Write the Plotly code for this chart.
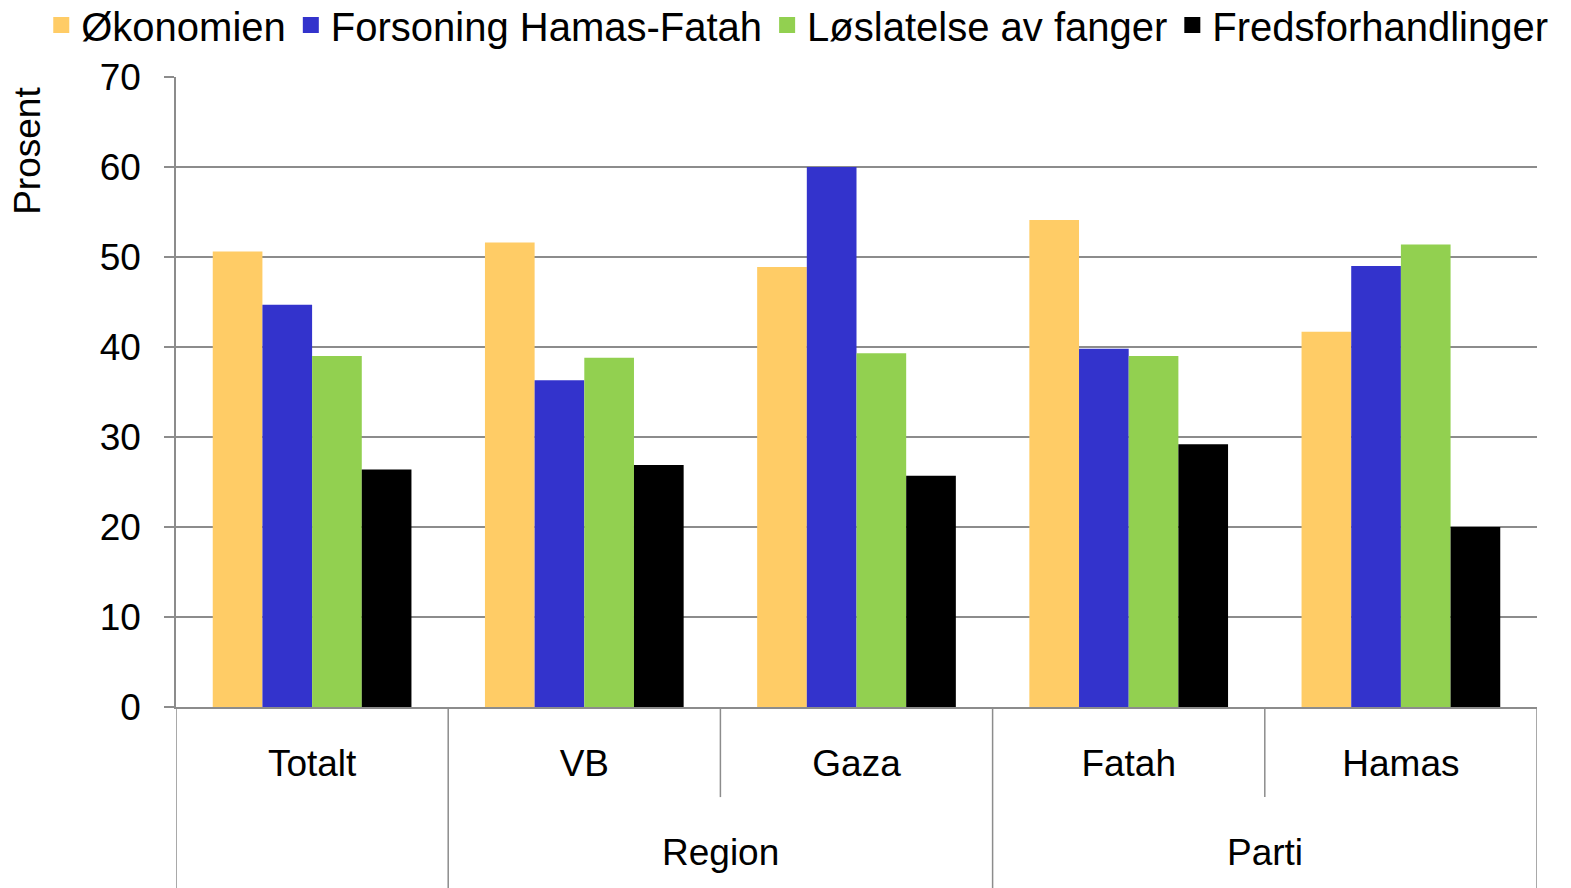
import plotly.graph_objects as go

categories = ["Totalt", "VB", "Gaza", "Fatah", "Hamas"]
groups = ["", "Region", "Region", "Parti", "Parti"]

series_names = ["Økonomien", "Forsoning Hamas-Fatah", "Løslatelse av fanger", "Fredsforhandlinger"]
okonomien = [50.6, 51.6, 48.9, 54.1, 41.7]
forsoning = [44.7, 36.3, 60.0, 39.8, 49.0]
loslatelse = [39.0, 38.8, 39.3, 39.0, 51.4]
freds = [26.4, 26.9, 25.7, 29.2, 20.0]

colors = ["#FFCC66", "#3333CC", "#92D050", "#000000"]
values = [okonomien, forsoning, loslatelse, freds]

FONT = "Liberation Sans, Arial, sans-serif"
GRID = "#8c8c8c"

fig = go.Figure()
for name, vals, col in zip(series_names, values, colors):
    fig.add_trace(go.Bar(x=categories, y=vals, name=name, marker_color=col,
                         marker_line_width=0, showlegend=False))
# legend entries with bigger square symbols
for name, col in zip(series_names, colors):
    fig.add_trace(go.Scatter(x=[None], y=[None], mode="markers", name=name,
                             marker=dict(symbol="square", size=16, color=col)))

# separators under the category axis
n = len(categories)
shapes = []
for i in range(n + 1):
    pos = i - 0.5
    long_line = i == 0 or i == n or groups[i] != groups[i - 1]
    shapes.append(dict(type="line", xref="x", yref="paper", x0=pos, x1=pos,
                       y0=0, y1=-0.29 if long_line else -0.143,
                       line=dict(color=GRID, width=1.5)))

annotations = []
start = 0
for i in range(1, n + 1):
    if i == n or groups[i] != groups[start]:
        if groups[start]:
            annotations.append(dict(text=groups[start], xref="x", yref="paper",
                                    x=(start + i - 1) / 2, y=-0.231, showarrow=False,
                                    font=dict(size=37, color="black", family=FONT),
                                    xanchor="center", yanchor="middle"))
        start = i

annotations.append(dict(text="Prosent", textangle=-90, xref="paper", yref="paper",
                        x=-0.109, y=0.987, xanchor="center", yanchor="top",
                        showarrow=False, font=dict(size=37, color="black", family=FONT)))

fig.update_layout(
    width=1571, height=888,
    margin=dict(l=176, r=34, t=77, b=181, autoexpand=False),
    plot_bgcolor="white", paper_bgcolor="white",
    font=dict(family=FONT, size=37, color="black"),
    barmode="group", bargap=0.27, bargroupgap=0,
    legend=dict(orientation="h", x=-0.099, xanchor="left", y=1.0825, yanchor="middle",
                font=dict(size=40), itemclick=False, bgcolor="rgba(0,0,0,0)"),
    shapes=shapes, annotations=annotations,
)
fig.update_yaxes(range=[0, 70], dtick=10, showgrid=True, gridcolor=GRID, gridwidth=1.5,
                 showline=True, linecolor=GRID, linewidth=1.5, ticks="outside",
                 ticklen=10, tickcolor=GRID, tickwidth=1.5, ticklabelstandoff=16,
                 zeroline=False)
fig.update_xaxes(type="category", range=[-0.5, n - 0.5], showline=True, linecolor=GRID,
                 linewidth=1.5, ticks="", showgrid=False, ticklabelstandoff=23)

# drop the default 8px body margin so the figure fills the window
fig.write_html("out.html", config={"displayModeBar": False},
               post_script="document.body.style.margin='0';")
